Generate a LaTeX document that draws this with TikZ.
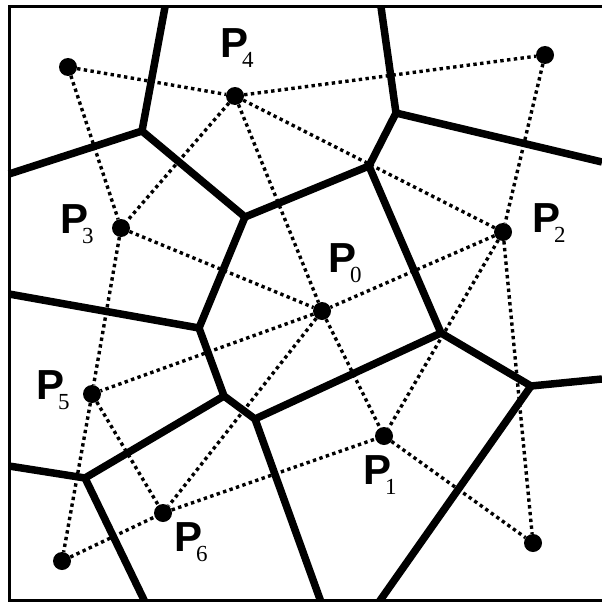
\documentclass[tikz,border=0pt]{standalone}
\usepackage{fontspec}
\setmainfont{Liberation Serif}
\newfontfamily\labelfont{Liberation Sans}
\usetikzlibrary{positioning}
\usetikzlibrary{calc}

\newcommand{\sitename}[1]{{\labelfont\bfseries\fontsize{42}{42}\selectfont P}\kern-6pt\raisebox{-10pt}{\fontsize{23}{23}\selectfont #1}}

\begin{document}
\begin{tikzpicture}[
			x=1pt, y=-1pt,
			site/.style={circle, fill=black, inner sep=0pt, minimum size=18pt},
			sitelabel/.style={inner sep=0pt, anchor=base west},
			cell/.style={line width=7.5pt, line join=round},
			link/.style={line width=3.4pt, dash pattern=on 3.4pt off 3.4pt},
			frame/.style={line width=3pt},
			]
			\useasboundingbox (0,0) rectangle (602,602);
			
			% sites
			\node[site] (p_0) at (322,311) {};
			\node[site] (p_1) at (384,436) {};
			\node[site] (p_2) at (503,232) {};
			\node[site] (p_3) at (121,228) {};
			\node[site] (p_4) at (235,96)  {};
			\node[site] (p_5) at (92,394)  {};
			\node[site] (p_6) at (163,513) {};
			\node[site] (q_a) at (68,67)   {};
			\node[site] (q_b) at (545,55)  {};
			\node[site] (q_c) at (62,561)  {};
			\node[site] (q_d) at (533,543) {};
			
			\node[sitelabel] (l_0) at (328,272) {\sitename{0}};
			\node[sitelabel] (l_1) at (363,484) {\sitename{1}};
			\node[sitelabel] (l_2) at (532,232) {\sitename{2}};
			\node[sitelabel] (l_3) at (60,233)  {\sitename{3}};
			\node[sitelabel] (l_4) at (220,57)  {\sitename{4}};
			\node[sitelabel] (l_5) at (36,399)  {\sitename{5}};
			\node[sitelabel] (l_6) at (174,551) {\sitename{6}};
			
			% cell corners
			\coordinate (v_1) at (142,131);
			\coordinate (v_2) at (245,217);
			\coordinate (v_3) at (369,166);
			\coordinate (v_4) at (396,113);
			\coordinate (v_5) at (199,328);
			\coordinate (v_6) at (224,396);
			\coordinate (v_7) at (255,419);
			\coordinate (v_8) at (85,478);
			\coordinate (v_9) at (441,333);
			\coordinate (v_10) at (531,386);
			% open ends on the frame
			\coordinate (e_1) at (165,7);
			\coordinate (e_2) at (381,7);
			\coordinate (e_3) at (9,174);
			\coordinate (e_4) at (9,294);
			\coordinate (e_5) at (9,466);
			\coordinate (e_6) at (602,162);
			\coordinate (e_7) at (602,379);
			\coordinate (e_8) at (145,602);
			\coordinate (e_9) at (321,602);
			\coordinate (e_10) at (379,602);
			
			% triangulation
			\draw[link] (q_a) -- (p_4);
			\draw[link] (q_a) -- (p_3);
			\draw[link] (p_4) -- (q_b);
			\draw[link] (p_4) -- (p_3);
			\draw[link] (p_4) -- (p_0);
			\draw[link] (p_4) -- (p_2);
			\draw[link] (q_b) -- (p_2);
			\draw[link] (p_3) -- (p_0);
			\draw[link] (p_3) -- (p_5);
			\draw[link] (p_2) -- (p_0);
			\draw[link] (p_2) -- (p_1);
			\draw[link] (p_2) -- (q_d);
			\draw[link] (p_0) -- (p_5);
			\draw[link] (p_0) -- (p_6);
			\draw[link] (p_0) -- (p_1);
			\draw[link] (p_5) -- (p_6);
			\draw[link] (p_5) -- (q_c);
			\draw[link] (q_c) -- (p_6);
			\draw[link] (p_6) -- (p_1);
			\draw[link] (p_1) -- (q_d);
			
			% cells
			\draw[cell] (e_1) -- (v_1) -- (e_3);
			\draw[cell] (v_1) -- (v_2) -- (v_3) -- (v_4) -- (e_2);
			\draw[cell] (v_4) -- (e_6);
			\draw[cell] (v_2) -- (v_5) -- (e_4);
			\draw[cell] (v_5) -- (v_6) -- (v_7) -- (v_9) -- (v_3);
			\draw[cell] (v_6) -- (v_8) -- (e_5);
			\draw[cell] (v_8) -- (e_8);
			\draw[cell] (v_7) -- (e_9);
			\draw[cell] (v_9) -- (v_10) -- (e_7);
			\draw[cell] (v_10) -- (e_10);
			
			% frame
			\draw[frame] (602,7) -- (9,7) -- (9,600) -- (602,600);
			
			\end{tikzpicture}
\end{document}
